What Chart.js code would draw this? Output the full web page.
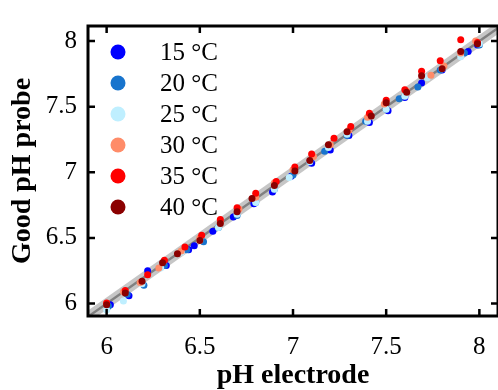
<!DOCTYPE html>
<html>
<head>
<meta charset="utf-8">
<script src="https://cdn.jsdelivr.net/npm/chart.js@4.4.0/dist/chart.umd.min.js"></script>
<style>
html,body{margin:0;padding:0;background:#fff;overflow:hidden;}
#wrap{width:502px;height:390px;}
</style>
</head>
<body>
<div id="wrap"><canvas id="c" width="502" height="390"></canvas></div>
<script>
// x = pH electrode, y = Good pH probe, one pair of arrays per temperature
const labels = ['15 °C', '20 °C', '25 °C', '30 °C', '35 °C', '40 °C'];
const colors = ['#0000ff', '#1874cd', '#bfefff', '#ff8c69', '#ff0000', '#8b0000'];

const x15 = [6.02, 6.12, 6.22, 6.32, 6.44, 6.47, 6.57, 6.68, 6.79, 6.89, 6.99, 7.10, 7.20, 7.30, 7.41, 7.51, 7.60, 7.69, 7.80, 7.94, 7.99];
const y15 = [5.99, 6.06, 6.25, 6.29, 6.41, 6.44, 6.55, 6.66, 6.76, 6.85, 6.97, 7.07, 7.17, 7.28, 7.38, 7.47, 7.57, 7.68, 7.78, 7.92, 7.97];
const x20 = [6.01, 6.11, 6.20, 6.31, 6.43, 6.52, 6.60, 6.70, 6.80, 6.90, 7.00, 7.09, 7.17, 7.29, 7.39, 7.50, 7.57, 7.67, 7.79, 7.92, 8.00];
const y20 = [5.98, 6.07, 6.14, 6.29, 6.41, 6.47, 6.58, 6.67, 6.77, 6.87, 6.98, 7.08, 7.16, 7.28, 7.39, 7.48, 7.56, 7.65, 7.78, 7.91, 7.97];
const x25 = [6.00, 6.09, 6.19, 6.29, 6.40, 6.50, 6.60, 6.70, 6.80, 6.90, 6.98, 7.09, 7.19, 7.29, 7.40, 7.50, 7.60, 7.72, 7.80, 7.90, 8.00];
const y25 = [5.95, 6.02, 6.15, 6.27, 6.39, 6.48, 6.58, 6.68, 6.77, 6.87, 6.96, 7.08, 7.19, 7.29, 7.39, 7.48, 7.58, 7.72, 7.79, 7.88, 7.98];
const x30 = [6.00, 6.09, 6.18, 6.28, 6.40, 6.50, 6.61, 6.71, 6.80, 6.90, 7.00, 7.11, 7.20, 7.30, 7.40, 7.49, 7.61, 7.74, 7.81, 7.90, 7.98];
const y30 = [6.00, 6.09, 6.16, 6.27, 6.40, 6.50, 6.62, 6.72, 6.81, 6.92, 7.02, 7.12, 7.21, 7.32, 7.42, 7.52, 7.62, 7.74, 7.81, 7.91, 8.00];
const x35 = [6.00, 6.10, 6.22, 6.31, 6.42, 6.51, 6.61, 6.70, 6.80, 6.91, 7.01, 7.10, 7.22, 7.31, 7.41, 7.50, 7.60, 7.69, 7.79, 7.90, 7.99];
const y35 = [6.005, 6.10, 6.22, 6.33, 6.43, 6.52, 6.64, 6.73, 6.84, 6.93, 7.04, 7.14, 7.26, 7.35, 7.45, 7.55, 7.63, 7.77, 7.85, 8.01, 7.99];
const x40 = [6.00, 6.10, 6.19, 6.30, 6.38, 6.50, 6.61, 6.70, 6.78, 6.90, 7.01, 7.09, 7.19, 7.29, 7.42, 7.50, 7.61, 7.69, 7.80, 7.90, 7.99];
const y40 = [5.99, 6.08, 6.17, 6.31, 6.38, 6.48, 6.61, 6.70, 6.80, 6.90, 7.01, 7.09, 7.21, 7.31, 7.43, 7.53, 7.61, 7.735, 7.79, 7.92, 7.98];

const xTicks = [6, 6.5, 7, 7.5, 8];
const yTicks = [6, 6.5, 7, 7.5, 8];
const diag = [5.8, 8.2]; // y = x reference line

const xs = [x15, x20, x25, x30, x35, x40];
const ys = [y15, y20, y25, y30, y35, y40];
const serif = 'Liberation Serif';

let datasets = [];
// grey band and centre line under the points
datasets.push({
  type: 'line', data: diag.map(v => ({x: v, y: v})), borderColor: '#c6c6c6',
  borderWidth: 10, pointRadius: 0, clip: 0, order: 8
});
datasets.push({
  type: 'line', data: diag.map(v => ({x: v, y: v})), borderColor: '#808080',
  borderWidth: 2.5, pointRadius: 0, clip: 0, order: 7
});
labels.forEach((l, i) => {
  datasets.push({
    label: l,
    data: xs[i].map((v, j) => ({x: v, y: ys[i][j]})),
    backgroundColor: colors[i],
    borderWidth: 0,
    pointRadius: 3.5,
    order: 6 - i
  });
});

// frame with inward ticks and the legend in the upper left
const frame = {
  id: 'frame',
  afterDraw(chart) {
    const {ctx, chartArea: a, scales: {x, y}} = chart;
    ctx.save();
    ctx.strokeStyle = '#000';
    ctx.lineWidth = 2.5;
    ctx.beginPath();
    xTicks.forEach(v => {
      const px = x.getPixelForValue(v);
      ctx.moveTo(px, a.bottom); ctx.lineTo(px, a.bottom - 7);
      ctx.moveTo(px, a.top); ctx.lineTo(px, a.top + 7);
    });
    yTicks.forEach(v => {
      const py = y.getPixelForValue(v);
      ctx.moveTo(a.left, py); ctx.lineTo(a.left + 7, py);
      ctx.moveTo(a.right, py); ctx.lineTo(a.right - 7, py);
    });
    ctx.stroke();
    ctx.lineWidth = 3;
    ctx.strokeRect(a.left, a.top, a.right - a.left, a.bottom - a.top);

    ctx.font = '25px "' + serif + '"';
    ctx.textBaseline = 'middle';
    labels.forEach((l, i) => {
      const cy = a.top + 26 + i * 31;
      ctx.beginPath();
      ctx.fillStyle = colors[i];
      ctx.arc(a.left + 30, cy, 7.5, 0, Math.PI * 2);
      ctx.fill();
      ctx.fillStyle = '#000';
      ctx.fillText(l, a.left + 72, cy + 1);
    });
    ctx.restore();
  }
};

new Chart(document.getElementById('c'), {
  type: 'scatter',
  data: {datasets: datasets},
  plugins: [frame],
  options: {
    responsive: false,
    animation: false,
    devicePixelRatio: 1,
    layout: {padding: {top: 15, right: 1.2, left: 0, bottom: 0}},
    plugins: {legend: {display: false}, tooltip: {enabled: false}},
    scales: {
      x: {
        type: 'linear', min: 5.9, max: 8.1,
        grid: {display: false, drawTicks: false},
        border: {display: false},
        afterBuildTicks: s => { s.ticks = xTicks.map(v => ({value: v})); },
        afterFit: s => { s.height = 74; },
        ticks: {color: '#000', padding: 16, font: {family: serif, size: 25}, callback: v => String(v)},
        title: {display: true, text: 'pH electrode', color: '#000', padding: {top: 0, bottom: -3},
          font: {family: serif, size: 28, weight: 'bold'}}
      },
      y: {
        type: 'linear', min: 5.905, max: 8.115,
        grid: {display: false, drawTicks: false},
        border: {display: false},
        afterBuildTicks: s => { s.ticks = yTicks.map(v => ({value: v})); },
        afterFit: s => { s.width = 88; },
        ticks: {color: '#000', padding: 11, font: {family: serif, size: 25}, callback: v => String(v)},
        title: {display: true, text: 'Good pH probe', color: '#000', padding: {top: 6, bottom: 0},
          font: {family: serif, size: 28, weight: 'bold'}}
      }
    }
  }
});
</script>
</body>
</html>
